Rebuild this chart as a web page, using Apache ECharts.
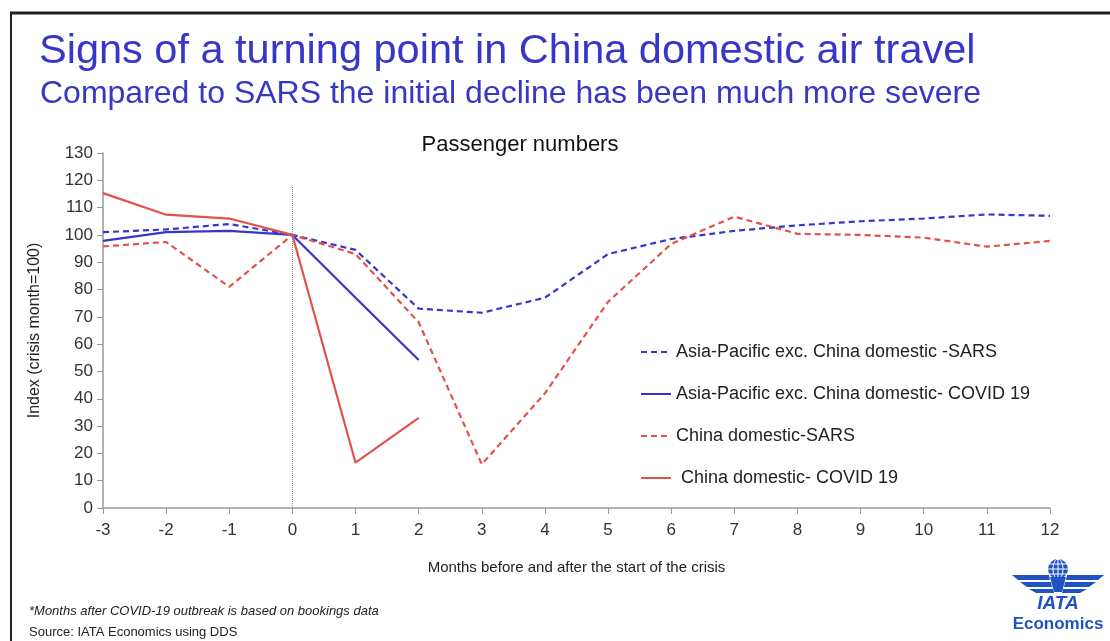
<!DOCTYPE html>
<html>
<head>
<meta charset="utf-8">
<script src="https://cdn.jsdelivr.net/npm/echarts@6/dist/echarts.min.js"></script>
<style>
  html, body { margin: 0; padding: 0; background: #fff; }
  #chart { width: 1110px; height: 641px; }
</style>
</head>
<body>
<div id="chart"></div>
<script>
// months relative to the start of the crisis
const months = [-3, -2, -1, 0, 1, 2, 3, 4, 5, 6, 7, 8, 9, 10, 11, 12];
const yTicks = [0, 10, 20, 30, 40, 50, 60, 70, 80, 90, 100, 110, 120, 130];

const apacSars = [101, 102, 104, 100, 94.5, 73, 71.5, 77, 93, 98.5, 101.5, 103.5, 105, 106, 107.5, 107];
const apacCovid = [97.8, 101, 101.5, 100, 77, 54.2];
const chinaSars = [95.8, 97.4, 81, 100, 93, 68, 16, 42, 75.5, 96.7, 106.7, 100.4, 100, 99, 95.7, 97.8];
const chinaCovid = [115.3, 107.4, 106, 100, 16.6, 33];

const seriesNames = [
  'Asia-Pacific exc. China domestic -SARS',
  'Asia-Pacific exc. China domestic- COVID 19',
  'China domestic-SARS',
  ' China domestic- COVID 19'
];

const BLUE = '#3636c8';
const RED = '#e2524a';
const TEXT = '#333';

function pairs(values) {
  return values.map((v, i) => [months[i], v]);
}

function lineSeries(name, values, color, dashed) {
  return {
    name: name,
    type: 'line',
    data: pairs(values),
    symbol: 'none',
    lineStyle: { color: color, width: 2.2, type: dashed ? [6, 4] : 'solid' },
    itemStyle: { color: color },
    z: dashed ? 3 : 4
  };
}

const chart = echarts.init(document.getElementById('chart'));

const series = [
  lineSeries(seriesNames[0], apacSars, BLUE, true),
  lineSeries(seriesNames[1], apacCovid, BLUE, false),
  lineSeries(seriesNames[2], chinaSars, RED, true),
  lineSeries(seriesNames[3], chinaCovid, RED, false)
];

// dotted marker at the crisis month
series[0].markLine = {
  silent: true,
  symbol: 'none',
  label: { show: false },
  lineStyle: { color: '#888', type: 'dotted', width: 1 },
  data: [[{ coord: [0, 0] }, { coord: [0, 118] }]]
};

const logoBlue = '#2152c4';

chart.setOption({
  animation: false,
  backgroundColor: '#fff',
  textStyle: { fontFamily: 'Liberation Sans, Arial, sans-serif' },
  title: [
    {
      text: 'Signs of a turning point in China domestic air travel',
      left: 34, top: 26,
      textStyle: { color: BLUE, fontSize: 41.5, fontWeight: 'normal' }
    },
    {
      text: 'Compared to SARS the initial decline has been much more severe',
      left: 35, top: 73,
      textStyle: { color: BLUE, fontSize: 32, fontWeight: 'normal' }
    },
    {
      text: 'Passenger numbers',
      left: 515, top: 129, textAlign: 'center',
      textStyle: { color: '#111', fontSize: 22, fontWeight: 'normal' }
    },
    {
      text: '*Months after COVID-19 outbreak is based on bookings data',
      left: 24, top: 600,
      textStyle: { color: '#222', fontSize: 13, fontStyle: 'italic', fontWeight: 'normal' }
    },
    {
      text: 'Source: IATA Economics using DDS',
      left: 24, top: 621,
      textStyle: { color: '#222', fontSize: 13, fontWeight: 'normal' }
    }
  ],
  legend: {
    orient: 'vertical',
    left: 635, top: 338,
    itemWidth: 30, itemHeight: 14, itemGap: 24,
    data: seriesNames,
    itemStyle: { opacity: 0 },
    textStyle: { color: '#222', fontSize: 18 },
    selectedMode: false
  },
  grid: { left: 103, right: 60, top: 153, bottom: 133 },
  xAxis: {
    type: 'value',
    min: -3, max: 12, interval: 1,
    name: 'Months before and after the start of the crisis',
    nameLocation: 'middle', nameGap: 52,
    nameTextStyle: { color: '#222', fontSize: 15 },
    axisLine: { show: true, onZero: false, lineStyle: { color: '#999', width: 1.5 } },
    axisTick: { show: true, length: 6, lineStyle: { color: '#999' } },
    axisLabel: { color: TEXT, fontSize: 17, margin: 14 },
    splitLine: { show: false }
  },
  yAxis: {
    type: 'value',
    min: yTicks[0], max: yTicks[yTicks.length - 1], interval: 10,
    name: 'Index (crisis month=100)',
    nameLocation: 'middle', nameGap: 60, nameRotate: 90,
    nameTextStyle: { color: '#222', fontSize: 16 },
    axisLine: { show: true, onZero: false, lineStyle: { color: '#999', width: 1.5 } },
    axisTick: { show: true, length: 6, lineStyle: { color: '#999' } },
    axisLabel: { color: TEXT, fontSize: 17, margin: 10 },
    splitLine: { show: false }
  },
  series: series,
  graphic: [
    // frame
    { type: 'line', shape: { x1: 10, y1: 13, x2: 1110, y2: 13 }, style: { stroke: '#222', lineWidth: 3 } },
    { type: 'line', shape: { x1: 11, y1: 12, x2: 11, y2: 641 }, style: { stroke: '#222', lineWidth: 2 } },
    // IATA logo, centred on x = 1058
    {
      type: 'group', x: 1058, y: 558,
      children: [
        { type: 'circle', shape: { cx: 0, cy: 11, r: 10 }, style: { fill: logoBlue } },
        { type: 'line', shape: { x1: -10, y1: 11, x2: 10, y2: 11 }, style: { stroke: '#fff', lineWidth: 1 } },
        { type: 'line', shape: { x1: 0, y1: 1, x2: 0, y2: 21 }, style: { stroke: '#fff', lineWidth: 1 } },
        { type: 'ellipse', shape: { cx: 0, cy: 11, rx: 5, ry: 10 }, style: { fill: 'none', stroke: '#fff', lineWidth: 1 } },
        { type: 'line', shape: { x1: -9, y1: 6, x2: 9, y2: 6 }, style: { stroke: '#fff', lineWidth: 1 } },
        { type: 'line', shape: { x1: -9, y1: 16, x2: 9, y2: 16 }, style: { stroke: '#fff', lineWidth: 1 } },
        // body below the globe
        { type: 'polygon', shape: { points: [[-8, 19], [8, 19], [4, 34], [-4, 34]] }, style: { fill: logoBlue } },
        // left wing
        { type: 'polygon', shape: { points: [[-46, 17], [-9, 17], [-8, 22], [-40, 22]] }, style: { fill: logoBlue } },
        { type: 'polygon', shape: { points: [[-38, 24], [-7, 24], [-6, 29], [-31, 29]] }, style: { fill: logoBlue } },
        { type: 'polygon', shape: { points: [[-29, 31], [-5, 31], [-4, 35], [-22, 35]] }, style: { fill: logoBlue } },
        // right wing
        { type: 'polygon', shape: { points: [[46, 17], [9, 17], [8, 22], [40, 22]] }, style: { fill: logoBlue } },
        { type: 'polygon', shape: { points: [[38, 24], [7, 24], [6, 29], [31, 29]] }, style: { fill: logoBlue } },
        { type: 'polygon', shape: { points: [[29, 31], [5, 31], [4, 35], [22, 35]] }, style: { fill: logoBlue } },
        {
          type: 'text', style: {
            x: 0, y: 36, text: 'IATA', textAlign: 'center',
            fill: logoBlue, font: 'italic bold 19px Liberation Sans, Arial, sans-serif'
          }
        },
        {
          type: 'text', style: {
            x: 0, y: 58, text: 'Economics', textAlign: 'center',
            fill: logoBlue, font: 'bold 17px Liberation Sans, Arial, sans-serif'
          }
        }
      ]
    }
  ]
});
</script>
</body>
</html>
